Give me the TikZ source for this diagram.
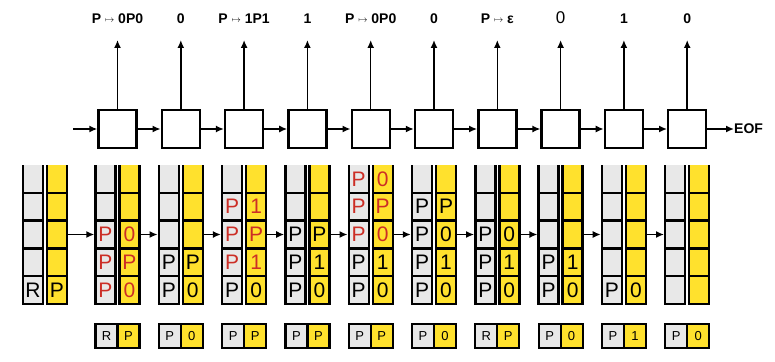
\documentclass[tikz,border=0pt]{standalone}
\usepackage{fontspec}
\setmainfont{Liberation Sans}
\usepackage{xcolor}
\usepackage{tikz}
\usetikzlibrary{positioning, arrows.meta}

\definecolor{xam}{RGB}{232,232,232}
\definecolor{vang}{RGB}{255,225,45}
\definecolor{do}{RGB}{204,46,38}

\newcommand{\mapchu}{\raisebox{1.5pt}{\fontsize{9}{9}\selectfont$\mapsto$}}
% Một cột ngăn xếp (hở ở trên): #1 = x trái, #2 = màu nền
\newcommand{\cotngan}[2]{%
  \fill[#2] (#1,165) rectangle ++(20,139);
  \draw[vien] (#1,165) -- (#1,304) -- ++(20,0) -- ++(0,-139);
  \foreach \k in {1,...,4} \draw[vien] (#1,304-27.8*\k) -- ++(20,0);
}

\tikzset{
  vien/.style={line width=2.4pt},
  hop/.style={draw, line width=2.4pt, minimum size=38pt, inner sep=0pt},
  muiten/.style={->, line width=1.5pt},
  nhan/.style={font=\bfseries\fontsize{14}{14}\selectfont, inner sep=0pt},
  chu/.style={font=\fontsize{21}{21}\selectfont, inner sep=0pt},
  odoi/.style={draw, line width=2.2pt, minimum width=22pt, minimum height=24pt,
    inner sep=0pt, font=\fontsize{13}{13}\selectfont}
}

\begin{document}
\begin{tikzpicture}[>={Latex[length=8pt,width=7pt]}, x=1pt, y=-1pt]
    \useasboundingbox (0,0) rectangle (775,361);

    % Hàng ô trên
    \foreach \i in {1,...,10}{
        \node[hop] (b\i) at ({117.5+(\i-1)*63.3},129) {};
        \coordinate (t\i) at ({117.5+(\i-1)*63.3},40);
        \draw[muiten] (b\i) -- (t\i);
    }
    \foreach \i [evaluate=\i as \ii using int(\i+1)] in {1,...,9}
        \draw[muiten] (b\i) -- (b\ii);
    \coordinate (vao) at (73,129);
    \draw[muiten] (vao) -- (b1);
    \node[nhan, anchor=west] (eof) at (734,129) {EOF};
    \draw[muiten] (b10) -- (eof);

    % Nhãn đầu ra
    \foreach \i/\t in {1/{P \mapchu{} 0P0}, 2/0, 3/{P \mapchu{} 1P1}, 4/1,
        5/{P \mapchu{} 0P0}, 6/0, 7/{P \mapchu{} ε},
        8/{\mdseries\fontsize{17}{17}\selectfont 0}, 9/1, 10/0}
        \node[nhan, anchor=base] (l\i) at ({117.5+(\i-1)*63.3},24) {\t};

    % Các ngăn xếp
    \foreach \j in {0,...,10}{
        \pgfmathsetmacro{\cx}{\j==0 ? 45 : 117.5+(\j-1)*63.3}
        \cotngan{\cx-22}{xam}
        \cotngan{\cx+2}{vang}
        \coordinate (sl\j) at (\cx-23.2,234.5);
        \coordinate (sr\j) at (\cx+23.2,234.5);
    }
    \foreach \j [evaluate=\j as \jj using int(\j+1)] in {0,...,9}
        \draw[muiten] (sr\j) -- (sl\jj);

    % Nội dung ngăn xếp: cột/tầng/trái/phải/màu
    \foreach \j/\k/\a/\b/\m in {0/0/R/P/black,
        1/0/P/0/do, 1/1/P/P/do, 1/2/P/0/do,
        2/0/P/0/black, 2/1/P/P/black,
        3/0/P/0/black, 3/1/P/1/do, 3/2/P/P/do, 3/3/P/1/do,
        4/0/P/0/black, 4/1/P/1/black, 4/2/P/P/black,
        5/0/P/0/black, 5/1/P/1/black, 5/2/P/0/do, 5/3/P/P/do, 5/4/P/0/do,
        6/0/P/0/black, 6/1/P/1/black, 6/2/P/0/black, 6/3/P/P/black,
        7/0/P/0/black, 7/1/P/1/black, 7/2/P/0/black,
        8/0/P/0/black, 8/1/P/1/black,
        9/0/P/0/black}{
        \pgfmathsetmacro{\cx}{\j==0 ? 45 : 117.5+(\j-1)*63.3}
        \node[chu, text=\m] (g\j-\k) at (\cx-12,290.1-27.8*\k) {\a};
        \node[chu, text=\m] (v\j-\k) at (\cx+12,290.1-27.8*\k) {\b};
    }

    % Hàng cặp dưới cùng
    \foreach \j/\a/\b in {1/R/P, 2/P/0, 3/P/P, 4/P/P, 5/P/P,
        6/P/0, 7/R/P, 8/P/0, 9/P/1, 10/P/0}{
        \node[odoi, fill=xam] (pa\j) at ({117.5+(\j-1)*63.3-11},336) {\a};
        \node[odoi, fill=vang, right=-2.2pt of pa\j] (pb\j) {\b};
    }
\end{tikzpicture}
\end{document}
